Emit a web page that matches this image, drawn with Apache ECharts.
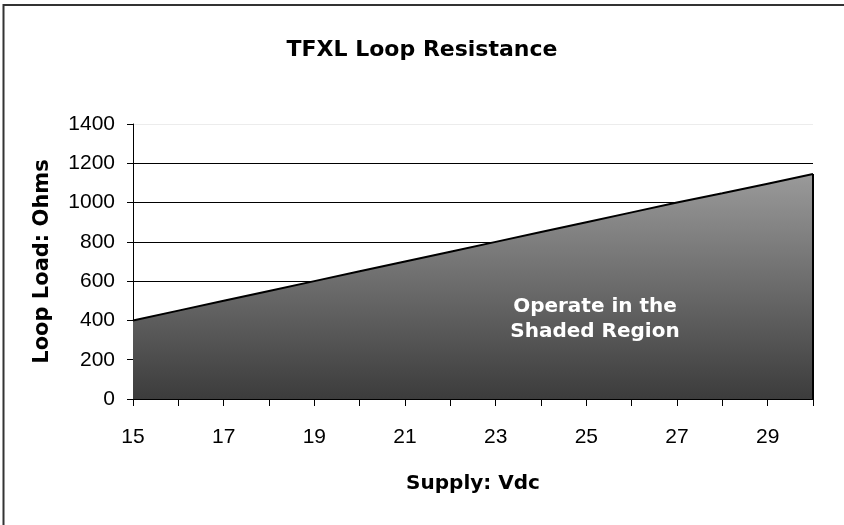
<!DOCTYPE html>
<html>
<head>
<meta charset="utf-8">
<script src="https://cdn.jsdelivr.net/npm/echarts@6/dist/echarts.min.js"></script>
<style>html,body{margin:0;padding:0;background:#fff}#c{width:844px;height:525px}</style>
</head>
<body>
<div id="c"></div>
<script>
const supplyVdc = ['15','16','17','18','19','20','21','22','23','24','25','26','27','28','29','30'];
const loopLoad = [400,450,500,550,600,650,700,750,800,850,900,950,1000,1047,1096,1145];
const yTicks = [0,200,400,600,800,1000,1200,1400];
const titleText = 'TFXL Loop Resistance';
const xName = 'Supply: Vdc';
const yName = 'Loop Load: Ohms';
const noteLines = ['Operate in the', 'Shaded Region'];

const chart = echarts.init(document.getElementById('c'), null, {renderer:'canvas'});
const FF = '"Liberation Sans", Arial, sans-serif';
const FB = '"DejaVu Sans", "Liberation Sans", sans-serif';
const lastIdx = supplyVdc.length - 1;
chart.setOption({
  animation: false,
  backgroundColor: '#fff',
  title: {
    text: titleText, left: 'center', top: 34,
    textStyle: {fontFamily: FB, fontSize: 22, fontWeight: 'bold', color: '#000'}
  },
  grid: {left: 133, right: 31, top: 124, bottom: 126},
  xAxis: {
    type: 'category', data: supplyVdc, boundaryGap: false,
    name: xName, nameLocation: 'middle', nameGap: 75,
    nameTextStyle: {fontFamily: FB, fontSize: 20, fontWeight: 'bold', color: '#000'},
    axisLine: {lineStyle: {color: '#000', width: 1}},
    axisTick: {show: true, interval: 0, length: 7, lineStyle: {color: '#000'}},
    axisLabel: {interval: 1, margin: 28, fontFamily: FF, fontSize: 21, color: '#000'},
    splitLine: {show: false}
  },
  yAxis: {
    type: 'value', min: yTicks[0], max: yTicks[yTicks.length-1], interval: yTicks[1]-yTicks[0],
    name: yName, nameLocation: 'middle', nameGap: 80,
    nameTextStyle: {fontFamily: FB, fontSize: 21, fontWeight: 'bold', color: '#000'},
    axisLine: {show: true, lineStyle: {color: '#000', width: 1}},
    axisTick: {show: true, length: 6, lineStyle: {color: '#000'}},
    axisLabel: {margin: 18, fontFamily: FF, fontSize: 21, color: '#000', formatter: v => String(v)},
    splitLine: {show: true, lineStyle: {color: ['#000','#000','#000','#000','#000','#000','#000','#ececec'], width: 1}}
  },
  graphic: [
    {type: 'rect', shape: {x: 3.5, y: 5, width: 900, height: 600}, style: {fill: 'none', stroke: '#333', lineWidth: 2}, z: 100},
    {type: 'text', x: 595, y: 319, z: 100,
     style: {text: noteLines.join('\n'), fill: '#fff', font: 'bold 20px ' + FB, align: 'center', verticalAlign: 'middle', lineHeight: 25}}
  ],
  series: [{
    type: 'line', data: loopLoad, symbol: 'none',
    lineStyle: {color: '#000', width: 2},
    areaStyle: {
      opacity: 1,
      color: {type: 'linear', x: 0, y: 0, x2: 0, y2: 1, colorStops: [
        {offset: 0, color: '#9a9a9a'}, {offset: 1, color: '#3c3c3c'}
      ]}
    },
    markLine: {
      silent: true, symbol: 'none', label: {show: false},
      lineStyle: {color: '#000', width: 2, type: 'solid'},
      data: [[{coord: [supplyVdc[lastIdx], 0]}, {coord: [supplyVdc[lastIdx], loopLoad[lastIdx]]}]]
    },
    z: 3
  }]
});
</script>
</body>
</html>
